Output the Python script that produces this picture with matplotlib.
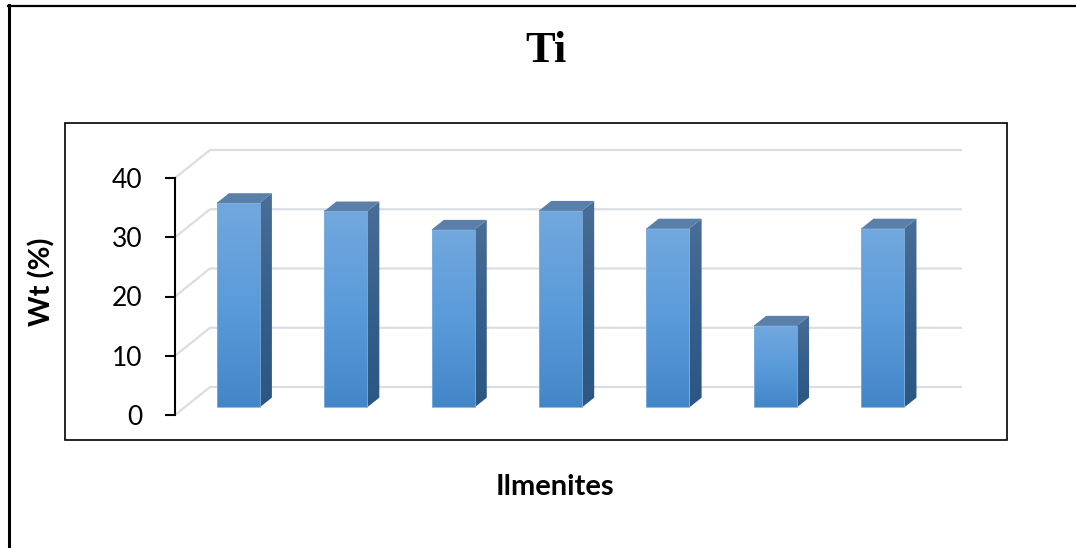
import numpy as np
import matplotlib
matplotlib.use("Agg")
import matplotlib.pyplot as plt
from matplotlib.patches import Polygon, Rectangle
from matplotlib.lines import Line2D
from matplotlib.colors import LinearSegmentedColormap

# ---- data ----
samples = ["1", "2", "3", "4", "5", "6", "7"]
ti_wt = [34.5, 33.1, 30.0, 33.2, 30.2, 13.8, 30.2]
y_ticks = [0, 10, 20, 30, 40]
chart_title = "Ti"
x_title = "Ilmenites"
y_title = "Wt (%)"

plt.rcParams["font.family"] = ["Lato", "DejaVu Sans"]

W, H = 1076, 548
fig = plt.figure(figsize=(W / 100, H / 100), dpi=100)


def fx(px):
    return px / W


def fy(py):
    return 1 - py / H


# outer chart frame (left and top edges) and plot-area box
fig.add_artist(Line2D([fx(9), fx(9)], [fy(5), fy(H + 2)], color="black", lw=2.2))
fig.add_artist(Line2D([fx(8), fx(W + 2)], [fy(6), fy(6)], color="black", lw=1.6))
fig.add_artist(Rectangle((fx(65), fy(440)), fx(1007) - fx(65), fy(123) - fy(440),
                         fill=False, ec="black", lw=1.2, transform=fig.transFigure))

# front plane of the 3-D column chart
ax = fig.add_axes([fx(175), fy(415), fx(927) - fx(175), fy(178) - fy(415)])
n = len(samples)
x = np.arange(n)
ymax = y_ticks[-1]
ax.set_xlim(-0.5, n - 0.5)
ax.set_ylim(0, ymax)
ax.patch.set_visible(False)

# oblique depth offset of the back wall, in data units
dx = 35 / (752 / n)
dy = 28 / (237 / ymax)

# back-wall gridlines with their floor-side diagonal
grid_col = "#dadde2"
for v in y_ticks:
    ax.plot([-0.5, -0.5 + dx, n - 0.5 + dx], [v, v + dy, v + dy],
            color=grid_col, lw=1.6, clip_on=False, zorder=1,
            solid_capstyle="butt")

front_cmap = LinearSegmentedColormap.from_list(
    "front", ["#4386c8", "#5a9bda", "#72a8de"])
side_cmap = LinearSegmentedColormap.from_list(
    "side", ["#2c5783", "#365f8b", "#4a6e97"])
top_col = "#5a7fa9"
grad = np.linspace(0, 1, 256).reshape(-1, 1)

half_w = 0.2          # half bar width (category units)
d_front, d_back = 0.27, 0.62   # bar depth within the floor

for i, v in zip(x, ti_wt):
    xl = i - half_w + d_front * dx
    xr = i + half_w + d_front * dx
    yb = d_front * dy
    yt = v + d_front * dy
    ox = (d_back - d_front) * dx
    oy = (d_back - d_front) * dy

    # front face
    ax.imshow(grad, cmap=front_cmap, extent=[xl, xr, yb, yt], origin="lower",
              aspect="auto", zorder=3, interpolation="bilinear")
    ax.add_patch(Rectangle((xl, yb), xr - xl, yt - yb, fill=False,
                           ec="#7fb0e0", lw=0.6, zorder=4))

    # right side face
    side = Polygon([(xr, yb), (xr + ox, yb + oy), (xr + ox, yt + oy), (xr, yt)],
                   closed=True, fc="none", ec="none", zorder=3)
    ax.add_patch(side)
    im = ax.imshow(grad, cmap=side_cmap, extent=[xr, xr + ox, yb, yt + oy],
                   origin="lower", aspect="auto", zorder=3,
                   interpolation="bilinear")
    im.set_clip_path(side)

    # top face
    ax.add_patch(Polygon([(xl, yt), (xr, yt), (xr + ox, yt + oy), (xl + ox, yt + oy)],
                         closed=True, fc=top_col, ec="none", zorder=3))

ax.set_xlim(-0.5, n - 0.5)
ax.set_ylim(0, ymax)

for s in ["top", "right", "bottom"]:
    ax.spines[s].set_visible(False)
ax.spines["left"].set_linewidth(1.5)
ax.spines["left"].set_color("black")
ax.set_xticks([])
ax.set_yticks(y_ticks)
ax.tick_params(axis="y", direction="out", length=7.5, width=1.5,
               pad=16, labelsize=19, colors="black")

# titles
fig.text(fx(546), fy(51), chart_title, ha="center", va="center",
         fontsize=32, fontweight="bold", family="Liberation Serif")
fig.text(fx(555), fy(487), x_title, ha="center", va="center",
         fontsize=21, fontweight="bold")
fig.text(fx(42), fy(282), y_title, ha="center", va="center", rotation=90,
         fontsize=21, fontweight="bold")

fig.savefig("out.png", dpi=100)
